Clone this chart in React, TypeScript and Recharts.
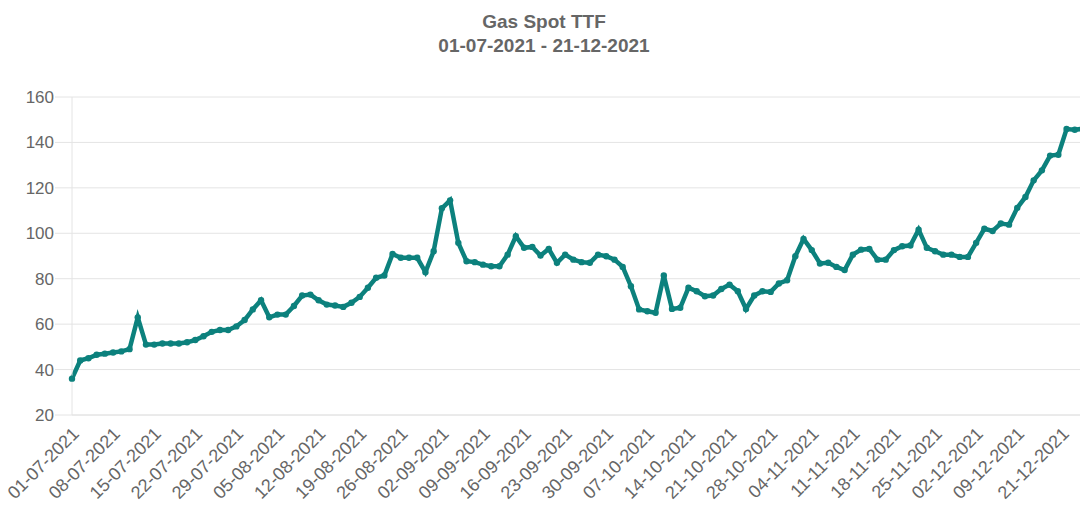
import { LineChart, Line, XAxis, YAxis, CartesianGrid } from "recharts";

const LINE_COLOR = "#0c817d";
const TEXT_COLOR = "#666666";
const GRID_COLOR = "#e4e4e4";
const FONT = "'Liberation Sans', Arial, Helvetica, sans-serif";

// trading days per month (weekdays), 01-07-2021 .. 21-12-2021
const julDays = [1, 2, 5, 6, 7, 8, 9, 12, 13, 14, 15, 16, 19, 20, 21, 22, 23, 26, 27, 28, 29, 30];
const augDays = [2, 3, 4, 5, 6, 9, 10, 11, 12, 13, 16, 17, 18, 19, 20, 23, 24, 25, 26, 27, 30, 31];
const sepDays = [1, 2, 3, 6, 7, 8, 9, 10, 13, 14, 15, 16, 17, 20, 21, 22, 23, 24, 27, 28, 29, 30];
const octDays = [1, 4, 5, 6, 7, 8, 11, 12, 13, 14, 15, 18, 19, 20, 21, 22, 25, 26, 27, 28, 29];
const novDays = [1, 2, 3, 4, 5, 8, 9, 10, 11, 12, 15, 16, 17, 18, 19, 22, 23, 24, 25, 26, 29, 30];
const decDays = [1, 2, 3, 6, 7, 8, 9, 10, 13, 14, 15, 16, 17, 20, 21];

// €/MWh
const prices = [
  36, 44, 45, 46.5, 47, 47.5, 48, 49, 63, 51,
  51, 51.5, 51.5, 51.5, 52, 53, 54.7, 56.6, 57.4, 57.4,
  59, 61.8, 66.5, 70.5, 63, 64.2, 64.2, 68, 72.6, 73,
  70.5, 68.6, 68.2, 67.6, 69.4, 72, 76, 80.4, 81.4, 90.9,
  89.2, 89.2, 89.2, 82.9, 92.1, 111, 114.5, 95.8, 87.7, 87.3,
  86.2, 85.5, 85.5, 90.6, 98.7, 93.6, 94, 90.2, 93.1, 87,
  90.6, 88.4, 87.3, 87, 90.6, 89.9, 88.4, 85.2, 76.7, 66.5,
  65.7, 65, 81.4, 66.7, 67.2, 76, 74.5, 72.3, 72.6, 75.5,
  77.4, 74.5, 66.7, 72.6, 74.5, 74.2, 77.9, 79.3, 89.9, 97.5,
  92.6, 86.7, 87, 85.2, 83.8, 90.6, 92.8, 93.1, 88.4, 88.4,
  92.6, 94.3, 94.6, 101.6, 93.6, 92.1, 90.6, 90.6, 89.6, 89.6,
  95.8, 102, 101, 104.3, 103.8, 111.2, 116, 123.3, 127.7, 134.2,
  134.6, 145.9, 145.6, 146,
];

const xTicks = [
  "01-07-2021", "08-07-2021", "15-07-2021", "22-07-2021", "29-07-2021",
  "05-08-2021", "12-08-2021", "19-08-2021", "26-08-2021", "02-09-2021",
  "09-09-2021", "16-09-2021", "23-09-2021", "30-09-2021", "07-10-2021",
  "14-10-2021", "21-10-2021", "28-10-2021", "04-11-2021", "11-11-2021",
  "18-11-2021", "25-11-2021", "02-12-2021", "09-12-2021", "21-12-2021",
];

const yTicks = [20, 40, 60, 80, 100, 120, 140, 160];

const pad = (n: number) => (n < 10 ? `0${n}` : `${n}`);
const dates = [
  ...julDays.map((d) => `${pad(d)}-07-2021`),
  ...augDays.map((d) => `${pad(d)}-08-2021`),
  ...sepDays.map((d) => `${pad(d)}-09-2021`),
  ...octDays.map((d) => `${pad(d)}-10-2021`),
  ...novDays.map((d) => `${pad(d)}-11-2021`),
  ...decDays.map((d) => `${pad(d)}-12-2021`),
];

const data = dates.map((date, i) => ({ date, price: prices[i] }));

// keep the last rotated label inside the visible frame
const LABEL_MAX_X = 1070;

function DateTick({ x, y, payload }: any) {
  const ax = Math.min(x + 8, LABEL_MAX_X);
  const ay = y + 20;
  return (
    <text
      x={ax}
      y={ay}
      transform={`rotate(-45, ${ax}, ${ay})`}
      textAnchor="end"
      fill={TEXT_COLOR}
      fontSize={18}
      fontFamily={FONT}
    >
      {payload.value}
    </text>
  );
}

export default function App() {
  return (
    <div
      style={{
        position: "absolute",
        left: 0,
        top: 0,
        width: 1080,
        height: 513,
        overflow: "hidden",
        background: "#fff",
      }}
    >
      <div
        style={{
          position: "absolute",
          top: 10,
          left: 4,
          width: 1080,
          textAlign: "center",
          fontFamily: FONT,
          fontWeight: "bold",
          fontSize: 19,
          lineHeight: "24px",
          color: TEXT_COLOR,
        }}
      >
        <div>Gas Spot TTF</div>
        <div>01-07-2021 - 21-12-2021</div>
      </div>

      <LineChart
        width={1084}
        height={513}
        data={data}
        margin={{ top: 97, right: 1, bottom: 8, left: 0 }}
      >
        <CartesianGrid vertical={false} stroke={GRID_COLOR} />
        <XAxis
          dataKey="date"
          ticks={xTicks}
          interval={0}
          tick={<DateTick />}
          tickLine={false}
          axisLine={{ stroke: GRID_COLOR }}
          tickSize={0}
          tickMargin={0}
          height={90}
        />
        <YAxis
          domain={[20, 160]}
          ticks={yTicks}
          width={72}
          tickSize={17}
          tickMargin={1}
          tickLine={{ stroke: GRID_COLOR }}
          axisLine={{ stroke: GRID_COLOR }}
          tick={{ fill: TEXT_COLOR, fontSize: 17, fontFamily: FONT }}
        />
        <Line
          type="linear"
          dataKey="price"
          stroke={LINE_COLOR}
          strokeWidth={4.5}
          dot={{ r: 3.2, fill: LINE_COLOR, stroke: LINE_COLOR, strokeWidth: 0 }}
          activeDot={false}
          isAnimationActive={false}
        />
      </LineChart>
    </div>
  );
}
